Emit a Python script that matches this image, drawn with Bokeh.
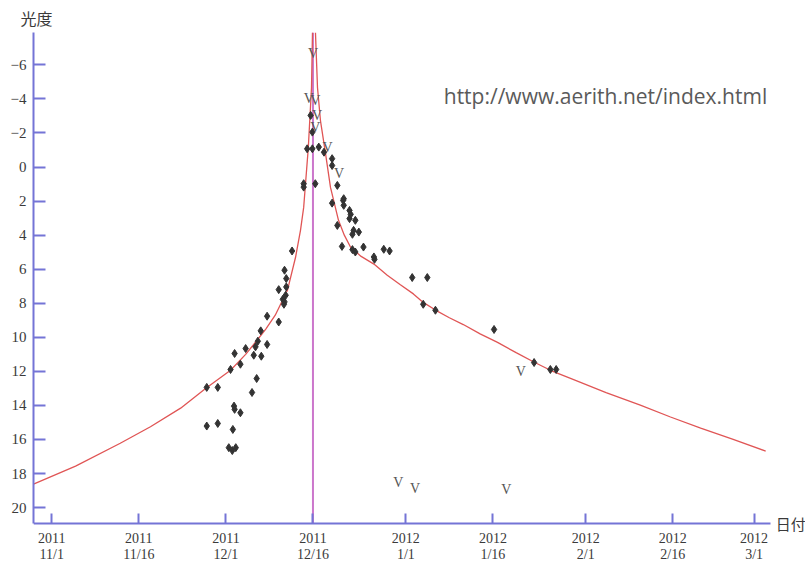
from bokeh.plotting import figure
from bokeh.models import Range1d, FixedTicker, Label, ColumnDataSource
from bokeh.embed import file_html
from bokeh.resources import INLINE
from bokeh.core.properties import value

# Days counted from 2011-11-01
TICK_DAYS = [0, 15, 30, 45, 61, 76, 92, 107, 121]
TICK_LABELS = ["2011\n11/1", "2011\n11/16", "2011\n12/1", "2011\n12/16",
               "2012\n1/1", "2012\n1/16", "2012\n2/1", "2012\n2/16", "2012\n3/1"]
MAG_TICKS = [-6, -4, -2, 0, 2, 4, 6, 8, 10, 12, 14, 16, 18, 20]
PERIHELION_DAY = 45.0

# observed magnitudes (dots)
OBS_DAY = [41.4, 40.1, 40.4, 39.1, 40.4, 40.3, 40.1, 40.0, 39.8, 37.1, 39.1, 36.0,
           35.5, 37.1, 35.1, 33.4, 31.5, 34.8, 36.1, 32.5, 30.8, 35.3, 26.7, 28.6,
           34.5, 31.4, 31.5, 32.5, 26.7, 28.6, 31.2, 30.5, 31.1, 31.7,
           44.0, 44.9, 46.0, 46.9, 48.3, 48.3, 44.9, 44.6, 43.4, 43.4, 45.4, 49.2,
           50.3, 48.3, 50.2, 50.3, 51.3, 51.5, 51.3, 52.3, 49.2, 52.0, 52.9, 51.8,
           50.0, 53.7, 51.8, 52.3, 55.5, 55.6, 57.2, 58.2, 62.1, 64.7, 64.0, 66.1,
           76.2, 83.1, 85.9, 86.9]
OBS_MAG = [4.93, 6.06, 6.55, 7.20, 7.04, 7.53, 7.92, 8.06, 7.77, 8.76, 9.10, 9.62,
           10.23, 10.42, 10.56, 10.66, 10.95, 11.05, 11.11, 11.58, 11.89, 12.42, 12.94, 12.94,
           13.24, 14.04, 14.23, 14.43, 15.21, 15.06, 15.41, 16.48, 16.65, 16.48,
           -1.07, -1.07, -1.17, -0.87, -0.49, -0.09, -2.05, -3.03, 0.98, 1.18, 0.98, 1.08,
           1.86, 2.12, 1.96, 2.25, 2.55, 2.78, 3.03, 3.13, 3.43, 3.72, 3.82, 3.95,
           4.66, 4.70, 4.85, 4.99, 5.28, 5.42, 4.83, 4.93, 6.49, 6.49, 8.06, 8.41,
           9.54, 11.48, 11.89, 11.89]

# "V" marked observations
V_DAY = [45.0, 44.3, 45.4, 45.7, 45.4, 47.5, 49.5, 59.7, 62.6, 78.3, 80.8]
V_MAG = [-6.66, -4.0, -3.9, -3.03, -2.34, -1.17, 0.39, 18.54, 18.87, 18.93, 12.03]

# model light curve, before and after perihelion
CURVE_PRE_DAY = [-3.15, 4.1, 11.8, 17.0, 22.2, 26.5, 30.8, 33.4, 35.1, 36.9, 38.5,
                 40.6, 42.0, 42.85, 43.4, 44.2, 44.75, 44.92]
CURVE_PRE_MAG = [18.62, 17.56, 16.22, 15.25, 14.16, 13.0, 11.93, 11.0, 10.29, 9.5, 8.7,
                 7.24, 5.30, 3.72, 2.37, -1.15, -4.67, -7.9]
CURVE_POST_DAY = [45.43, 45.78, 46.29, 47.16, 48.02, 49.40, 50.4, 51.46, 53.3, 55.5,
                  57.8, 60.0, 62.3, 64.0, 66.1, 68.5, 70.9, 73.8, 76.8, 80.0, 83.05,
                  86.0, 89.7, 95.5, 101.4, 106.6, 111.8, 117.4, 123.0]
CURVE_POST_MAG = [-7.9, -4.67, -2.73, -0.80, 1.20, 3.13, 4.0, 4.7, 5.25, 5.7,
                  6.35, 6.9, 7.45, 7.95, 8.4, 8.85, 9.25, 9.8, 10.3, 10.9, 11.45,
                  11.95, 12.45, 13.25, 13.98, 14.68, 15.33, 16.0, 16.68]

X_MIN, X_AXIS_END, X_MAX = -3.15, 123.83, 129.86
Y_AXIS_BASE, Y_TOP, Y_CANVAS_BOTTOM = 20.94, -7.9, 23.40

AXIS_COLOR = "#7474d6"
TEXT_COLOR = "#3a3a3a"
LABEL_FONT = "Liberation Sans Narrow"

p = figure(frame_width=772, frame_height=533,
           x_range=Range1d(X_MIN, X_MAX), y_range=Range1d(Y_CANVAS_BOTTOM, Y_TOP),
           output_backend="svg", toolbar_location=None,
           min_border_left=33, min_border_right=0, min_border_top=32, min_border_bottom=0)
p.outline_line_color = None
p.xgrid.visible = False
p.ygrid.visible = False
p.background_fill_color = "white"
p.border_fill_color = "white"

p.title.text = "光度"
p.title.align = "left"
p.title.offset = -13
p.title.standoff = 5
p.title.text_font = "Noto Sans CJK JP"
p.title.text_font_size = "16px"
p.title.text_font_style = "normal"
p.title.text_color = TEXT_COLOR

for ax in (p.xaxis[0], p.yaxis[0]):
    ax.axis_line_color = AXIS_COLOR
    ax.axis_line_width = 2
    ax.major_tick_line_color = AXIS_COLOR
    ax.major_tick_line_width = 2
    ax.major_tick_out = 0
    ax.minor_tick_line_color = None
    ax.major_label_text_font = LABEL_FONT
    ax.major_label_text_color = TEXT_COLOR

p.xaxis.fixed_location = Y_AXIS_BASE
p.xaxis.bounds = (X_MIN, X_AXIS_END)
p.xaxis.ticker = FixedTicker(ticks=TICK_DAYS)
p.xaxis.major_label_overrides = {d: lab for d, lab in zip(TICK_DAYS, TICK_LABELS)}
p.xaxis.major_tick_in = 10
p.xaxis.major_label_standoff = 7
p.xaxis.major_label_text_font_size = "14px"
p.xaxis.major_label_text_line_height = 1.1

p.yaxis.bounds = (Y_TOP, Y_AXIS_BASE)
p.yaxis.ticker = FixedTicker(ticks=MAG_TICKS)
p.yaxis.major_tick_in = 12
p.yaxis.major_label_standoff = 7
p.yaxis.major_label_text_font_size = "15px"

p.segment(x0=[PERIHELION_DAY], y0=[Y_AXIS_BASE], x1=[PERIHELION_DAY], y1=[Y_TOP],
          line_color="#cc77cc", line_width=2)

p.line(CURVE_PRE_DAY, CURVE_PRE_MAG, line_color="#e05555", line_width=1.3)
p.line(CURVE_POST_DAY, CURVE_POST_MAG, line_color="#e05555", line_width=1.3)

p.scatter(OBS_DAY, OBS_MAG, marker="diamond", size=8, fill_color="#333333",
          line_color="#333333")

vsrc = ColumnDataSource(dict(x=V_DAY, y=V_MAG, t=["V"] * len(V_DAY)))
p.text(x="x", y="y", text="t", source=vsrc, text_align="center", text_baseline="middle",
       text_font=value("Liberation Sans Narrow"), text_font_size="14px", text_color="#555555")

p.add_layout(Label(x=95.4, y=-4.2, text="http://www.aerith.net/index.html",
                   text_align="center", text_baseline="middle", text_font="Open Sans",
                   text_font_size="21px", text_color="#5a5a5a"))
p.add_layout(Label(x=127.3, y=Y_AXIS_BASE, text="日付", text_align="center", text_baseline="middle",
                   text_font="Noto Sans CJK JP", text_font_size="15px", text_color=TEXT_COLOR))

open("out.html", "w").write(file_html(p, INLINE))
